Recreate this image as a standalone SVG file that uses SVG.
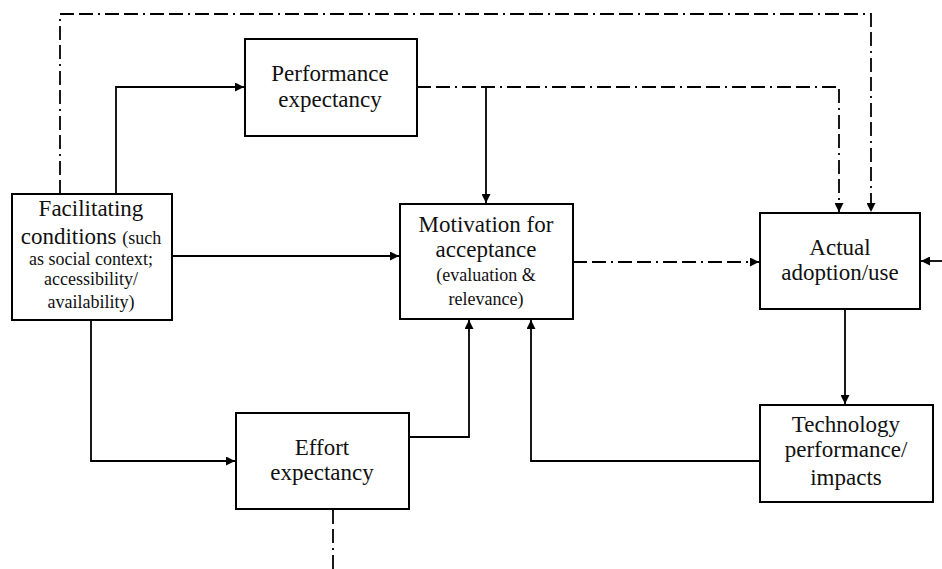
<svg xmlns="http://www.w3.org/2000/svg" width="942" height="569" viewBox="0 0 942 569">
<style>
.box{fill:#fff;stroke:#000;stroke-width:2}
.t{font-family:'Liberation Serif','Times New Roman',Times,'DejaVu Serif',serif;font-size:23px;fill:#111;text-anchor:middle}
.s{font-size:18px}
.ln{fill:none;stroke:#000;stroke-width:1.8}
.dd{fill:none;stroke:#000;stroke-width:1.8;stroke-dasharray:14 5 14 5 2 5}
</style>
<defs>
<marker id="ah" viewBox="0 0 10 10" refX="10" refY="5" markerWidth="10" markerHeight="9" markerUnits="userSpaceOnUse" orient="auto">
<path d="M0,0 L10,5 L0,10 Z" fill="#000"/>
</marker>
</defs>
<rect width="942" height="569" fill="#fff"/>
<g id="connectors">
<path class="ln" d="M116,194 V87 H244" marker-end="url(#ah)"/>
<path class="ln" d="M172,256 H399" marker-end="url(#ah)"/>
<path class="ln" d="M91,320 V461 H235" marker-end="url(#ah)"/>
<path class="ln" d="M486,87 V203" marker-end="url(#ah)"/>
<path class="dd" d="M417,87 H839 V212" marker-end="url(#ah)"/>
<path class="dd" d="M60,194 V14 H871 V212" marker-end="url(#ah)"/>
<path class="dd" d="M573,262 H759" marker-end="url(#ah)"/>
<path class="ln" d="M942,261 H921" marker-end="url(#ah)"/>
<path class="ln" d="M845,310 V404" marker-end="url(#ah)"/>
<path class="ln" d="M760,461 H531 V320" marker-end="url(#ah)"/>
<path class="ln" d="M409,437 H469 V320" marker-end="url(#ah)"/>
<path class="dd" d="M333,510 V569"/>
</g>
<g id="facilitating" font-family="Liberation Serif, serif">
<rect class="box" x="12" y="194" width="160" height="126"/>
<text class="t" x="91" y="216">Facilitating</text>
<text class="t" x="91" y="244">conditions <tspan class="s">(such</tspan></text>
<text class="t s" x="91" y="265">as social context;</text>
<text class="t s" x="91" y="285">accessibility/</text>
<text class="t s" x="91" y="308">availability)</text>
</g>
<g id="performance">
<rect class="box" x="245" y="39" width="172" height="97"/>
<text class="t" x="330" y="81">Performance</text>
<text class="t" x="330" y="107">expectancy</text>
</g>
<g id="motivation">
<rect class="box" x="400" y="204" width="173" height="115"/>
<text class="t" x="486" y="232">Motivation for</text>
<text class="t" x="486" y="257">acceptance</text>
<text class="t s" x="486" y="281">(evaluation &amp;</text>
<text class="t s" x="486" y="305">relevance)</text>
</g>
<g id="actual">
<rect class="box" x="760" y="213" width="160" height="96"/>
<text class="t" x="840" y="255">Actual</text>
<text class="t" x="840" y="280">adoption/use</text>
</g>
<g id="technology">
<rect class="box" x="760" y="405" width="173" height="97"/>
<text class="t" x="846" y="432">Technology</text>
<text class="t" x="846" y="457">performance/</text>
<text class="t" x="846" y="485">impacts</text>
</g>
<g id="effort">
<rect class="box" x="236" y="413" width="173" height="96"/>
<text class="t" x="322" y="455">Effort</text>
<text class="t" x="322" y="480">expectancy</text>
</g>
</svg>
